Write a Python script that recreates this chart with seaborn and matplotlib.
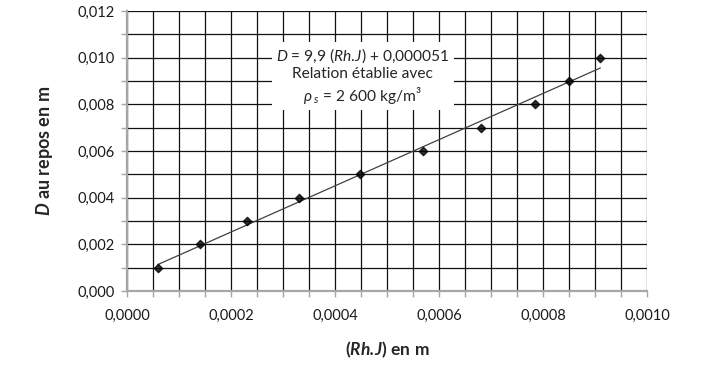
import numpy as np
import pandas as pd
import seaborn as sns
import matplotlib.pyplot as plt
from matplotlib.ticker import MultipleLocator, FuncFormatter

rhj = [0.0000596, 0.0001404, 0.000231, 0.000330, 0.000448,
       0.000570, 0.000680, 0.000785, 0.000849, 0.000910]
d_repos = [0.001, 0.002, 0.003, 0.004, 0.005,
           0.006, 0.007, 0.008, 0.009, 0.010]

df = pd.DataFrame({'RhJ': rhj, 'D': d_repos})

sns.set_style('white')
plt.rcParams['font.family'] = ['Lato', 'DejaVu Sans']
plt.rcParams['mathtext.fontset'] = 'custom'
plt.rcParams['mathtext.rm'] = 'Lato'
plt.rcParams['mathtext.it'] = 'Lato:italic'
plt.rcParams['mathtext.bf'] = 'Lato:bold'
plt.rcParams['mathtext.bfit'] = 'Lato:bold:italic'

fig = plt.figure(figsize=(7.05, 3.69), dpi=100)
ax = fig.add_axes([0.180, 0.2114, 0.738, 0.7588])

sns.regplot(x='RhJ', y='D', data=df, ax=ax, ci=None, truncate=True,
            marker='D', color='black',
            scatter_kws={'s': 18, 'zorder': 4},
            line_kws={'color': '#404040', 'lw': 0.9, 'zorder': 3})

ax.set_xlim(0, 0.001)
ax.set_ylim(0, 0.012)
ax.xaxis.set_major_locator(MultipleLocator(0.0002))
ax.xaxis.set_minor_locator(MultipleLocator(0.00005))
ax.yaxis.set_major_locator(MultipleLocator(0.002))
ax.yaxis.set_minor_locator(MultipleLocator(0.001))
ax.xaxis.set_major_formatter(FuncFormatter(lambda v, p: f"{v:.4f}".replace('.', ',')))
ax.yaxis.set_major_formatter(FuncFormatter(lambda v, p: f"{v:.3f}".replace('.', ',')))

ax.grid(True, which='both', color='#111111', lw=0.9)
ax.set_axisbelow(True)
for s in ['top', 'right']:
    ax.spines[s].set_visible(False)
for s in ['left', 'bottom']:
    ax.spines[s].set_color('#a6a6a6')
    ax.spines[s].set_linewidth(1.6)
ax.tick_params(which='both', direction='out', length=4, width=1, color='#a6a6a6',
               labelsize=10.5, labelcolor='#1a1a1a', left=True, bottom=True)
ax.tick_params(axis='x', pad=9)
ax.tick_params(axis='y', pad=5)

ax.set_xlabel(r'$\mathbf{(}\mathbfit{Rh.\!J}\mathbf{)\ en\ m}$', fontsize=12.5, labelpad=12)
ax.set_ylabel(r'$\mathbfit{D}$ au repos en m', fontsize=13, fontweight='bold', labelpad=16)

ax.text(0.000453, 0.00921,
        "$\\mathit{D}$ = 9,9 ($\\mathit{Rh.\\!J}$) + 0,000051\nRelation établie avec\n$\\mathit{\\rho_{\\ s}}$ = 2 600 kg/m³",
        ha='center', va='center', multialignment='center', fontsize=11.2, linespacing=1.25,
        bbox=dict(facecolor='white', edgecolor='none', pad=3), zorder=5)

fig.savefig('out.png', dpi=100)
